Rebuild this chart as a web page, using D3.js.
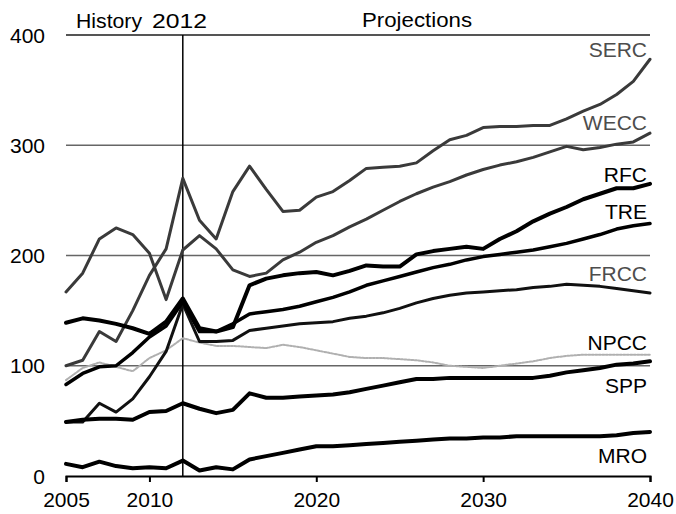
<!DOCTYPE html>
<html>
<head>
<meta charset="utf-8">
<script src="https://cdn.jsdelivr.net/npm/d3@7"></script>
<style>
html,body{margin:0;padding:0;background:#fff;}
svg{display:block;font-family:"Liberation Sans",Arial,sans-serif;}
</style>
</head>
<body>
<svg id="chart" width="676" height="514"></svg>
<script>
const years = d3.range(2005, 2041);
const xTicks = [2005, 2010, 2020, 2030, 2040];
const yTicks = [0, 100, 200, 300, 400];
const regions = ["SERC", "WECC", "RFC", "TRE", "FRCC", "NPCC", "SPP", "MRO"];

const SERC = [100,105,131,122,150,182,206,270,232,215,258,281,260,240,241,253,258,268,279,280,281,284,295,305,309,316,317,317,318,318,324,331,337,346,358,378];
const WECC = [167,184,215,225,219,202,160,205,218,206,187,181,184,196,203,212,218,226,233,241,249,256,262,267,273,278,282,285,289,294,299,296,298,301,303,311];
const RFC  = [139,143,141,138,134,129,140,161,134,131,135,173,179,182,184,185,182,186,191,190,190,201,204,206,208,206,215,222,231,238,244,251,256,261,261,265];
const TRE  = [83,93,99,100,112,126,136,158,131,131,138,147,149,151,154,158,162,167,173,177,181,185,189,192,196,199,201,203,205,208,211,215,219,224,227,229];
const FRCC = [49,49,66,58,70,90,113,156,122,122,123,132,134,136,138,139,140,143,145,148,152,157,161,164,166,167,168,169,171,172,174,173,172,170,168,166];
const NPCC = [87,98,103,99,95,107,114,125,121,118,118,117,116,119,117,114,111,108,107,107,106,105,103,100,99,98,100,102,104,107,109,110,110,110,110,110];
const SPP  = [49,51,52,52,51,58,59,66,61,57,60,75,71,71,72,73,74,76,79,82,85,88,88,89,89,89,89,89,89,91,94,96,98,101,102,104];
const MRO  = [11,8,13,9,7,8,7,14,5,8,6,15,18,21,24,27,27,28,29,30,31,32,33,34,34,35,35,36,36,36,36,36,36,37,39,40];

const seriesValues = {SERC, WECC, RFC, TRE, FRCC, NPCC, SPP, MRO};

const styles = {
  SERC: {stroke:"#3a3a3a", width:3, dash:null, label:"#4d4d4d", labelY:57},
  WECC: {stroke:"#3a3a3a", width:3, dash:null, label:"#4d4d4d", labelY:130},
  RFC:  {stroke:"#000", width:4, dash:null, label:"#000", labelY:182},
  TRE:  {stroke:"#000", width:3.5, dash:null, label:"#000", labelY:219},
  FRCC: {stroke:"#111", width:3, dash:null, label:"#4d4d4d", labelY:281},
  NPCC: {stroke:"#b0b0b0", width:2, dash:"2,1.5", label:"#000", labelY:350},
  SPP:  {stroke:"#000", width:4, dash:null, label:"#000", labelY:393},
  MRO:  {stroke:"#000", width:4, dash:null, label:"#000", labelY:463}
};

const svg = d3.select("#chart");
const x = d3.scaleLinear().domain([2005, 2040]).range([66, 650]);
const y = d3.scaleLinear().domain([0, 400]).range([476, 35]);

// gridlines
svg.append("g").selectAll("line").data(yTicks.filter(d => d > 0)).join("line")
  .attr("x1", x(2005)).attr("x2", x(2040))
  .attr("y1", d => y(d)).attr("y2", d => y(d))
  .attr("stroke", d => d === 400 ? "#555" : "#666")
  .attr("stroke-width", d => d === 400 ? 2 : 1.5);

// y labels
svg.append("g").selectAll("text").data(yTicks).join("text")
  .attr("x", 45).attr("y", d => y(d)).attr("dy", "0.36em")
  .attr("text-anchor", "end").attr("font-size", 21).attr("fill", "#000")
  .text(d => d);

// x axis
const xAxis = d3.axisBottom(x).tickValues(xTicks).tickFormat(d3.format("d")).tickSize(6).tickPadding(10);
const gx = svg.append("g").attr("transform", `translate(0,${y(0)})`).call(xAxis);
gx.select(".domain").attr("stroke", "#000").attr("stroke-width", 2);
gx.selectAll(".tick line").attr("stroke", "#000").attr("stroke-width", 2);
gx.selectAll(".tick text").attr("font-size", 21).attr("fill", "#000").attr("font-family", "Liberation Sans, Arial, sans-serif");

// 2012 divider
svg.append("line")
  .attr("x1", x(2012)).attr("x2", x(2012))
  .attr("y1", y(400)).attr("y2", y(0))
  .attr("stroke", "#000").attr("stroke-width", 1.5);

// lines
const line = d3.line().x((d, i) => x(years[i])).y(d => y(d));
const drawOrder = ["NPCC", "FRCC", "TRE", "WECC", "SERC", "RFC", "SPP", "MRO"];
svg.append("g").selectAll("path").data(drawOrder).join("path")
  .attr("d", k => line(seriesValues[k]))
  .attr("fill", "none")
  .attr("stroke", k => styles[k].stroke)
  .attr("stroke-width", k => styles[k].width)
  .attr("stroke-dasharray", k => styles[k].dash)
  .attr("stroke-linejoin", "round")
  .attr("stroke-linecap", "round");

// series labels
svg.append("g").selectAll("text").data(regions).join("text")
  .attr("x", 647).attr("y", k => styles[k].labelY)
  .attr("text-anchor", "end").attr("font-size", 21)
  .attr("fill", k => styles[k].label)
  .text(k => k);

// headers
svg.append("text").attr("x", 76).attr("y", 28).attr("font-size", 20)
  .attr("textLength", 66).attr("lengthAdjust", "spacingAndGlyphs").text("History");
svg.append("text").attr("x", 152).attr("y", 28).attr("font-size", 20)
  .attr("textLength", 55).attr("lengthAdjust", "spacingAndGlyphs").text("2012");
svg.append("text").attr("x", 362).attr("y", 27).attr("font-size", 20)
  .attr("textLength", 110).attr("lengthAdjust", "spacingAndGlyphs").text("Projections");
</script>
</body>
</html>
